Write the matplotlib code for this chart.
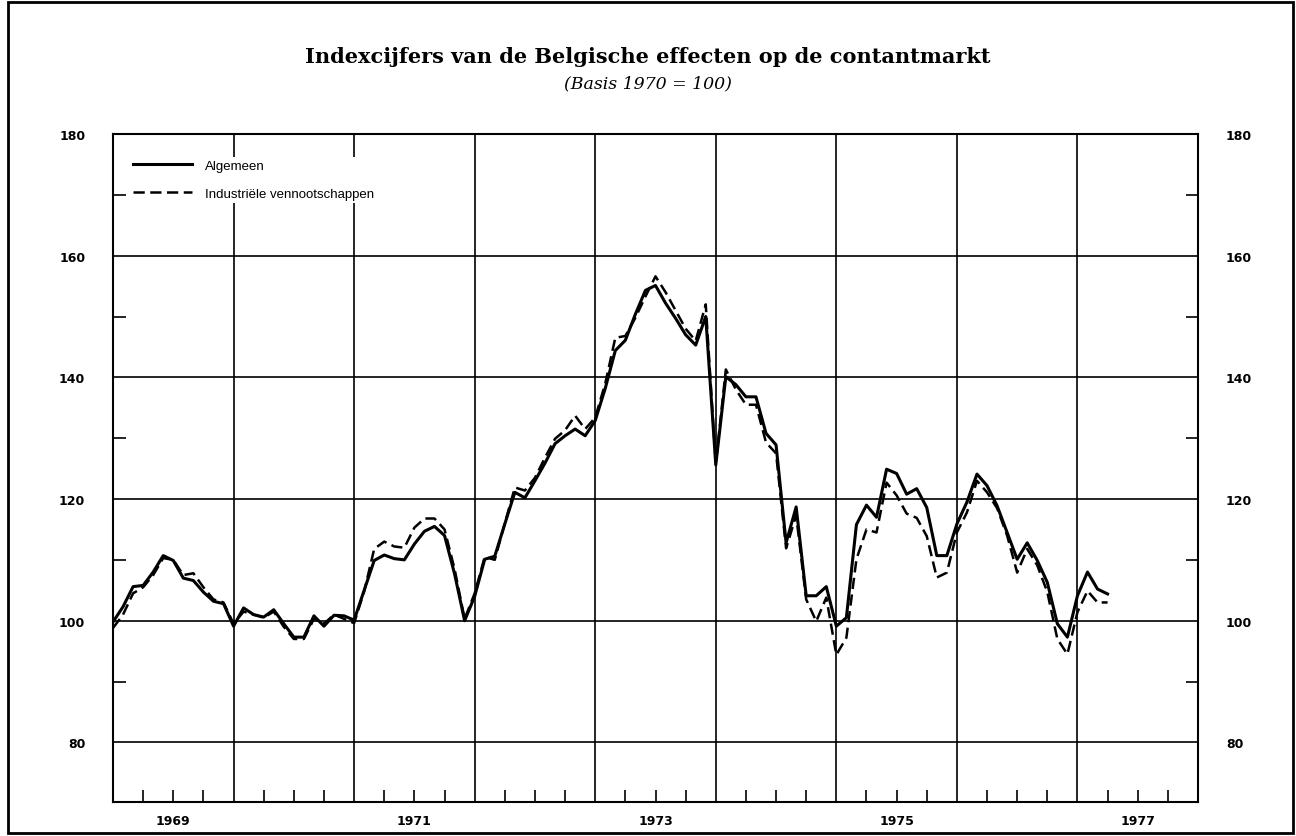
'''Indexcijfers van de Belgische effecten op de contantmarkt, maandcijfers 1969 - 1977'''

import matplotlib
matplotlib.use('Agg')
import matplotlib.pyplot as plt
from matplotlib.patches import Rectangle
from matplotlib.ticker import FuncFormatter

start_year = 1969
label_years = [1969, 1971, 1973, 1975, 1977]

# monthly values, january 1969 - april 1977 (basis 1970 = 100)
algemeen = [
    99.8, 102.3, 105.6, 105.8, 108.0, 110.7, 109.9, 107.0, 106.6, 104.7, 103.2, 102.8,
    99.1, 102.1, 101.0, 100.6, 101.8, 99.5, 97.3, 97.3, 100.8, 99.1, 100.9, 100.8,
    100.1, 105.0, 109.9, 110.8, 110.2, 110.0, 112.6, 114.7, 115.5, 114.0, 107.7, 100.0,
    104.0, 110.1, 110.6, 115.9, 121.1, 120.2, 123.0, 125.9, 129.1, 130.4, 131.5, 130.4,
    132.9, 138.2, 144.4, 146.1, 150.4, 154.3, 155.1, 152.2, 149.7, 147.0, 145.3, 150.0,
    125.6, 140.1, 138.8, 136.8, 136.8, 130.8, 128.9, 112.8, 118.7, 104.1, 104.1, 105.6,
    99.1, 100.5, 115.8, 119.0, 117.0, 124.9, 124.2, 120.8, 121.7, 118.6, 110.7, 110.7,
    115.9, 119.5, 124.1, 122.2, 118.9, 114.5, 110.1, 112.8, 109.9, 106.3, 99.5, 97.3,
    104.1, 108.0, 105.2, 104.4,
]

industriele = [
    98.8, 101.0, 104.5, 105.5, 107.5, 110.3, 110.0, 107.5, 107.8, 105.5, 103.5, 103.0,
    99.5, 101.5, 101.0, 100.5, 101.5, 99.0, 97.0, 97.0, 100.3, 99.5, 101.0, 100.3,
    99.6, 104.8, 111.8, 113.0, 112.2, 112.0, 115.3, 116.8, 116.8, 115.0, 108.5, 100.3,
    104.5, 110.5, 110.0, 116.0, 121.9, 121.4, 123.5, 126.8, 129.9, 131.3, 133.7, 131.5,
    133.4, 139.0, 146.5, 146.8, 149.8, 153.3, 156.6, 154.0, 151.0, 148.0, 146.0, 152.0,
    125.8, 141.3, 138.0, 135.5, 135.5, 129.3, 127.5, 111.9, 117.3, 103.5, 99.9, 103.8,
    94.4, 97.2, 110.1, 115.0, 114.5, 122.7, 120.6, 117.6, 116.9, 113.9, 107.1, 107.9,
    114.5, 117.8, 123.0, 121.1, 118.5, 114.0, 107.9, 111.8, 109.1, 104.7, 97.0, 94.5,
    101.4, 104.9, 103.0, 103.0,
]

months = [start_year + i / 12 for i in range(len(algemeen))]


def year_label(value, pos):
    '''Only the middle of the odd years gets a label'''
    year = int(value)
    if abs(value - year - 0.5) < 1e-6 and year in label_years:
        return str(year)
    return ''


fig = plt.figure(figsize=(12.96, 8.37), dpi=100)
ax = fig.add_axes([113 / 1296, 34 / 837, 1085 / 1296, 668 / 837])

ax.plot(months, algemeen, color='black', lw=2.2, label='Algemeen')
ax.plot(months, industriele, color='black', lw=1.8, linestyle=(0, (4.5, 2.2)),
        label='Industriële vennootschappen')

ax.set_xlim(start_year, 1978)
ax.set_ylim(70.2, 180)

ax.set_yticks(range(80, 181, 20))
ax.set_yticks(range(90, 180, 20), minor=True)
ax.set_xticks(range(start_year, 1979))
ax.set_xticks([y + q / 4 for y in range(start_year, 1978) for q in (1, 2, 3)], minor=True)
ax.set_xticklabels([])
ax.xaxis.set_minor_formatter(FuncFormatter(year_label))

ax.grid(which='major', color='black', lw=1.2)
ax.set_axisbelow(True)

ax.tick_params(axis='x', which='major', length=0)
ax.tick_params(axis='x', which='minor', direction='in', length=9, width=1.2, pad=9,
               labelsize=9)
ax.tick_params(axis='y', which='major', length=0, pad=20, labelsize=9,
               labelleft=True, labelright=True)
ax.tick_params(axis='y', which='minor', direction='in', length=9, width=1.2,
               left=True, right=True)
for lab in ax.get_xticklabels(minor=True) + ax.get_yticklabels():
    lab.set_fontweight('bold')

for spine in ax.spines.values():
    spine.set_linewidth(1.5)

ax.legend(loc='upper left', bbox_to_anchor=(0.0157, 0.9656), frameon=True,
          facecolor='white', edgecolor='none', framealpha=1, borderpad=0.2,
          borderaxespad=0, handlelength=4.5, handletextpad=1.0, labelspacing=1.2,
          prop={'family': 'Liberation Sans', 'size': 9.5})

fig.text(0.5, 1 - 57 / 837, 'Indexcijfers van de Belgische effecten op de contantmarkt',
         ha='center', va='center', fontsize=15, fontweight='bold', family='DejaVu Serif')
fig.text(0.5, 1 - 84 / 837, '(Basis 1970 = 100)', ha='center', va='center',
         fontsize=12.5, style='italic', family='DejaVu Serif')

# frame round the whole chart
fig.add_artist(Rectangle((8 / 1296, 3 / 837), 1285 / 1296, 831 / 837,
                         transform=fig.transFigure, fill=False, lw=2, color='black'))

fig.savefig('out.png', dpi=100)
